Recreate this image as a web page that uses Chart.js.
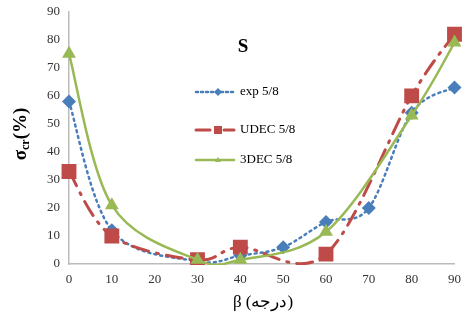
<!DOCTYPE html>
<html>
<head>
<meta charset="utf-8">
<script src="https://cdn.jsdelivr.net/npm/chart.js@4"></script>
<style>
  html, body { margin: 0; padding: 0; background: #fff; }
  #wrap { width: 465px; height: 322px; position: relative; }
</style>
</head>
<body>
<div id="wrap"><canvas id="chart"></canvas></div>
<script>
// values
const expAngles = [0, 10, 30, 40, 50, 60, 70, 80, 90];
const expValues = [58, 12, 1, 3, 6, 15, 20, 54, 63];
const udecAngles = [0, 10, 30, 40, 60, 80, 90];
const udecValues = [33, 10, 1.5, 6, 3.5, 60, 82];
const dec3Angles = [0, 10, 30, 40, 60, 80, 90];
const dec3Values = [75, 21, 1.5, 1.5, 11.5, 53, 79];
const xTicks = [0, 10, 20, 30, 40, 50, 60, 70, 80, 90];
const yTicks = [0, 10, 20, 30, 40, 50, 60, 70, 80, 90];

const seriesNames = ['exp 5/8', 'UDEC 5/8', '3DEC 5/8'];
const BLUE = '#4a7ebb', RED = '#be4b48', GREEN = '#98b954';
const SERIF = '"Liberation Serif", "Times New Roman", serif';

const toPoints = (xs, ys) => xs.map((x, i) => ({ x: x, y: ys[i] }));

// Excel-like smoothing: catmull-rom control points (1/6 of neighbour span)
const excelSmooth = {
    id: 'excelSmooth',
    beforeDatasetDraw(chart, args) {
        const line = args.meta.dataset;
        const pts = args.meta.data;
        if (!line || !pts.length) return;
        line.updateControlPoints(chart.chartArea, 'x');
        pts.forEach((p, i) => {
            const prev = pts[i - 1] || p;
            const next = pts[i + 1] || p;
            const tx = (next.x - prev.x) / 6;
            const ty = (next.y - prev.y) / 6;
            p.cp1x = p.x - tx; p.cp1y = p.y - ty;
            p.cp2x = p.x + tx; p.cp2y = p.y + ty;
        });
    }
};

// title, legend and axis titles drawn on the canvas
const decorations = {
    id: 'decorations',
    afterDraw(chart) {
        const c = chart.ctx;
        c.save();
        c.fillStyle = '#000';
        c.textBaseline = 'middle';

        // "S"
        c.font = 'bold 19px ' + SERIF;
        c.textAlign = 'center';
        c.fillText('S', 243, 47);

        // legend
        const rows = [
            { y: 92, color: BLUE, dash: [2, 3], width: 2.5, marker: 'diamond' },
            { y: 130, color: RED, dash: [14, 6, 2, 6], width: 3, marker: 'square' },
            { y: 160, color: GREEN, dash: [], width: 2.5, marker: 'triangle' }
        ];
        rows.forEach((r, i) => {
            c.strokeStyle = r.color;
            c.lineWidth = r.width;
            c.lineCap = 'round';
            c.setLineDash(r.dash);
            c.beginPath();
            c.moveTo(196, r.y);
            c.lineTo(234, r.y);
            c.stroke();
            c.setLineDash([]);
            c.fillStyle = r.color;
            const mx = 218;
            c.beginPath();
            if (r.marker === 'diamond') {
                c.moveTo(mx, r.y - 4); c.lineTo(mx + 4, r.y); c.lineTo(mx, r.y + 4); c.lineTo(mx - 4, r.y);
            } else if (r.marker === 'square') {
                c.rect(mx - 4, r.y - 4, 8, 8);
            } else {
                c.moveTo(mx, r.y - 3); c.lineTo(mx + 3, r.y + 2); c.lineTo(mx - 3, r.y + 2);
            }
            c.closePath();
            c.fill();
            c.fillStyle = '#000';
            c.font = '13px ' + SERIF;
            c.textAlign = 'left';
            c.fillText(seriesNames[i], 240, r.y);
        });

        // y axis title: sigma_cr(%)
        c.translate(21, 134);
        c.rotate(-Math.PI / 2);
        c.textAlign = 'left';
        c.font = 'bold 19px ' + SERIF;
        const w1 = c.measureText('σ').width;
        c.font = 'bold 12px ' + SERIF;
        const w2 = c.measureText('cr').width;
        c.font = 'bold 19px ' + SERIF;
        const w3 = c.measureText('(%)').width;
        const x0 = -(w1 + w2 + w3) / 2;
        c.fillText('σ', x0, 0);
        c.font = 'bold 12px ' + SERIF;
        c.fillText('cr', x0 + w1, 5);
        c.font = 'bold 19px ' + SERIF;
        c.fillText('(%)', x0 + w1 + w2, 0);
        c.restore();

        // x axis title
        c.save();
        c.fillStyle = '#000';
        c.direction = 'ltr';
        c.textAlign = 'center';
        c.textBaseline = 'middle';
        c.font = '17px ' + SERIF;
        c.fillText('β (درجه)', 263, 303);
        c.restore();
    }
};

const clipArea = { left: 10, right: 10, top: 10, bottom: 1 };

const ctx = document.getElementById('chart').getContext('2d');
new Chart(ctx, {
    type: 'scatter',
    data: {
        datasets: [
            {
                label: seriesNames[0],
                data: toPoints(expAngles, expValues),
                showLine: true,
                borderColor: BLUE,
                backgroundColor: BLUE,
                borderWidth: 2.5,
                borderDash: [2, 4],
                borderCapStyle: 'round',
                pointStyle: 'rectRot',
                pointRadius: 7,
                pointBorderWidth: 0,
                tension: 0.4,
                clip: clipArea,
                order: 3
            },
            {
                label: seriesNames[1],
                data: toPoints(udecAngles, udecValues),
                showLine: true,
                borderColor: RED,
                backgroundColor: RED,
                borderWidth: 3,
                borderDash: [16, 8, 2, 8],
                borderCapStyle: 'round',
                pointStyle: 'rect',
                pointRadius: 10.5,
                pointBorderWidth: 0,
                tension: 0.4,
                clip: clipArea,
                order: 2
            },
            {
                label: seriesNames[2],
                data: toPoints(dec3Angles, dec3Values),
                showLine: true,
                borderColor: GREEN,
                backgroundColor: GREEN,
                borderWidth: 2.5,
                pointStyle: 'triangle',
                pointRadius: 8,
                pointBorderWidth: 0,
                tension: 0.4,
                clip: clipArea,
                order: 1
            }
        ]
    },
    options: {
        responsive: true,
        maintainAspectRatio: false,
        animation: false,
        layout: { padding: { left: 0, right: 10, top: 10, bottom: 0 } },
        plugins: {
            legend: { display: false },
            tooltip: { enabled: false }
        },
        scales: {
            x: {
                type: 'linear',
                min: 0,
                max: 90,
                afterBuildTicks: axis => { axis.ticks = xTicks.map(v => ({ value: v })); },
                afterFit: axis => { axis.height = 58; },
                grid: { display: false, drawTicks: true, tickLength: 5, color: '#bbb' },
                border: { color: '#bbb', width: 1.5 },
                ticks: { color: '#333', font: { family: SERIF, size: 13 }, padding: 3 }
            },
            y: {
                min: 0,
                max: 90,
                afterBuildTicks: axis => { axis.ticks = yTicks.map(v => ({ value: v })); },
                afterFit: axis => { axis.width = 69; },
                grid: { display: false, drawTicks: true, tickLength: 5, color: '#bbb' },
                border: { color: '#bbb', width: 1.5 },
                ticks: { color: '#333', font: { family: SERIF, size: 13 }, padding: 4 }
            }
        }
    },
    plugins: [excelSmooth, decorations]
});
</script>
</body>
</html>
